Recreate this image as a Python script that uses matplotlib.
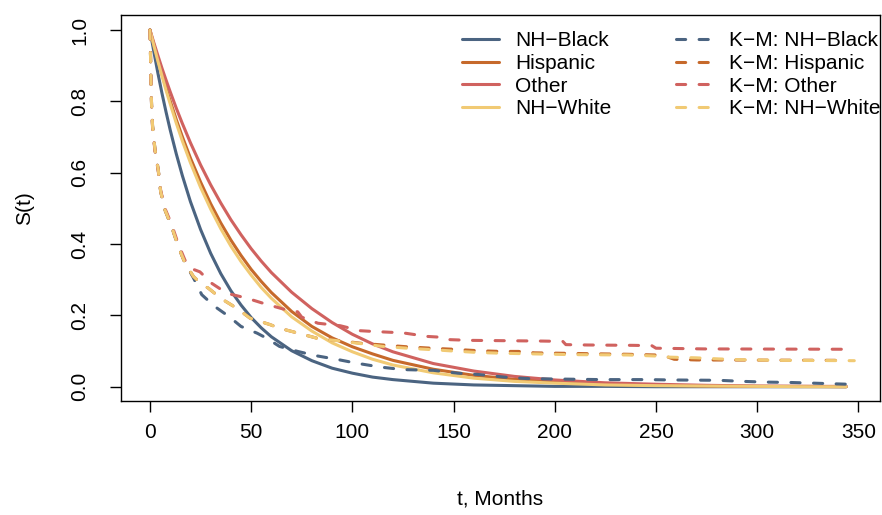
import numpy as np
import matplotlib
matplotlib.use('Agg')
from matplotlib import pyplot as plt

# fitted survival curves
t_fit = [0, 2, 4, 6, 8, 10, 13, 16, 20, 25, 30, 35, 40, 45, 50, 55, 60, 70, 80, 90,
         100, 110, 120, 140, 160, 180, 200, 225, 250, 275, 300, 325, 344]
s_black = [1.0, 0.937, 0.877, 0.821, 0.769, 0.720, 0.653, 0.592, 0.519, 0.441,
           0.374, 0.317, 0.269, 0.229, 0.194, 0.165, 0.140, 0.101, 0.073, 0.052,
           0.038, 0.027, 0.020, 0.010, 0.005, 0.003, 0.001, 0.001, 0.0, 0.0,
           0.0, 0.0, 0.0]
s_hisp = [1.0, 0.957, 0.915, 0.875, 0.837, 0.801, 0.749, 0.701, 0.641, 0.574,
          0.513, 0.459, 0.411, 0.368, 0.329, 0.295, 0.264, 0.211, 0.169, 0.137,
          0.112, 0.092, 0.074, 0.049, 0.032, 0.021, 0.014, 0.007, 0.004, 0.002,
          0.001, 0.001, 0.0]
s_other = [1.0, 0.963, 0.927, 0.892, 0.859, 0.827, 0.781, 0.738, 0.684, 0.622,
           0.566, 0.515, 0.468, 0.426, 0.387, 0.352, 0.320, 0.265, 0.219, 0.180,
           0.147, 0.120, 0.098, 0.065, 0.044, 0.029, 0.019, 0.011, 0.007, 0.004,
           0.002, 0.001, 0.001]
s_white = [1.0, 0.955, 0.911, 0.870, 0.830, 0.793, 0.739, 0.689, 0.628, 0.559,
           0.498, 0.443, 0.394, 0.351, 0.313, 0.278, 0.248, 0.196, 0.156, 0.123,
           0.098, 0.077, 0.061, 0.039, 0.024, 0.015, 0.010, 0.005, 0.003, 0.002,
           0.001, 0.0, 0.0]

# Kaplan-Meier estimates (t, S)
km_black = [(0, 1.0), (0.3, 0.925), (0.5, 0.855), (0.8, 0.79), (1.3, 0.73),
            (2.5, 0.664), (4.1, 0.608), (5.3, 0.547), (7.4, 0.496), (10.7, 0.449),
            (14, 0.393), (17.3, 0.347), (21.5, 0.305), (25.6, 0.258), (32, 0.225),
            (39, 0.197), (45, 0.169), (53, 0.150), (58, 0.135), (64, 0.113),
            (73, 0.099), (82, 0.087), (93, 0.076), (102, 0.066), (114, 0.055),
            (125, 0.048), (140, 0.046), (152, 0.038), (163, 0.034), (175, 0.027),
            (186, 0.023), (196, 0.022), (223, 0.020), (246, 0.020), (257, 0.019),
            (281, 0.018), (293, 0.015), (304, 0.013), (316, 0.012), (328, 0.010),
            (339, 0.008), (345, 0.007)]
km_hisp = [(0, 1.0), (0.3, 0.925), (0.5, 0.855), (0.8, 0.79), (1.3, 0.73),
           (2.5, 0.664), (4.1, 0.608), (5.3, 0.547), (7.4, 0.496), (10.7, 0.449),
           (14, 0.393), (17.3, 0.347), (21.5, 0.309), (25, 0.29), (28.9, 0.276),
           (35.5, 0.246), (42.9, 0.22), (49.5, 0.192), (59.4, 0.174), (64, 0.164),
           (73.4, 0.150), (82.5, 0.136), (94, 0.129), (104, 0.122), (115, 0.117),
           (127, 0.112), (139, 0.108), (150, 0.105), (162, 0.101), (173, 0.099),
           (182, 0.099), (190, 0.095), (213, 0.093), (236, 0.091), (250, 0.089),
           (255, 0.085), (259, 0.077), (270, 0.075), (345, 0.074)]
km_other = [(0, 1.0), (0.3, 0.925), (0.5, 0.855), (0.8, 0.79), (1.3, 0.725),
            (2.5, 0.66), (4.1, 0.605), (5.3, 0.55), (7.4, 0.5), (10.7, 0.455),
            (14, 0.4), (17.3, 0.355), (21, 0.33), (24.7, 0.322), (30.5, 0.29),
            (38, 0.262), (48, 0.248), (57, 0.232), (67, 0.216), (73, 0.21),
            (75, 0.195), (83, 0.178), (94, 0.171), (104, 0.157), (110, 0.155),
            (125, 0.151), (137, 0.141), (146, 0.138), (148, 0.132), (158, 0.130),
            (194, 0.128), (204, 0.127), (205.5, 0.118), (216, 0.117), (239, 0.116),
            (248, 0.115), (250, 0.108), (274, 0.106), (347, 0.105)]
km_white = [(0, 1.0), (0.3, 0.925), (0.5, 0.855), (0.8, 0.79), (1.3, 0.73),
            (2.5, 0.664), (4.1, 0.608), (5.3, 0.547), (7.4, 0.496), (10.7, 0.449),
            (14, 0.393), (17.3, 0.347), (21.5, 0.309), (25, 0.29), (28.9, 0.276),
            (35.5, 0.246), (42.9, 0.22), (49.5, 0.192), (59.4, 0.174), (64, 0.164),
            (73.4, 0.150), (82.5, 0.136), (94, 0.128), (104, 0.121), (115, 0.113),
            (127, 0.108), (139, 0.104), (150, 0.100), (162, 0.096), (173, 0.094),
            (190, 0.092), (208, 0.090), (236, 0.089), (250, 0.086), (256, 0.083),
            (270, 0.081), (281, 0.078), (290, 0.076), (310, 0.074), (348, 0.073)]

groups = ['NH\u2212Black', 'Hispanic', 'Other', 'NH\u2212White']
colors = ['#4b6481', '#c6692b', '#d0625f', '#f1ca74']


def main():
    plt.rcParams['font.family'] = ['Liberation Sans', 'DejaVu Sans']
    fig = plt.figure(figsize=(8.82, 5.15), dpi=100)
    ax = fig.add_axes([121 / 882, 1 - 401 / 515, 759 / 882, 386 / 515])

    lw = 2.2
    for name, s, c in zip(groups, [s_black, s_hisp, s_other, s_white], colors):
        ax.plot(t_fit, s, color=c, lw=lw, label=name, solid_capstyle='round')
    for name, km, c in zip(groups, [km_black, km_hisp, km_other, km_white], colors):
        km = np.array(km)
        ax.plot(km[:, 0], km[:, 1], color=c, lw=lw, label='K\u2212M: ' + name,
                dashes=(3.0, 4.4), dash_capstyle='round')

    ax.set_xlim(-14.3, 360.7)
    ax.set_ylim(-0.04, 1.042)
    ax.set_xticks([0, 50, 100, 150, 200, 250, 300, 350])
    ax.set_yticks([0.0, 0.2, 0.4, 0.6, 0.8, 1.0])
    ax.set_yticklabels(['0.0', '0.2', '0.4', '0.6', '0.8', '1.0'], rotation=90, va='center')
    ax.tick_params(length=8, width=1.0, labelsize=15)
    ax.tick_params(axis='x', pad=8)
    ax.tick_params(axis='y', pad=15)
    for sp in ax.spines.values():
        sp.set_linewidth(1.0)

    ax.set_xlabel('t, Months', fontsize=15, labelpad=34)
    ax.set_ylabel('S(t)', fontsize=15, labelpad=26)

    ax.legend(ncol=2, frameon=False, fontsize=15, loc='upper left',
              bbox_to_anchor=(0.436, 0.985), borderpad=0, handlelength=1.75,
              handletextpad=0.8, columnspacing=3.1, labelspacing=0.18)

    fig.savefig('out.png', dpi=100)


if __name__ == '__main__':
    main()
